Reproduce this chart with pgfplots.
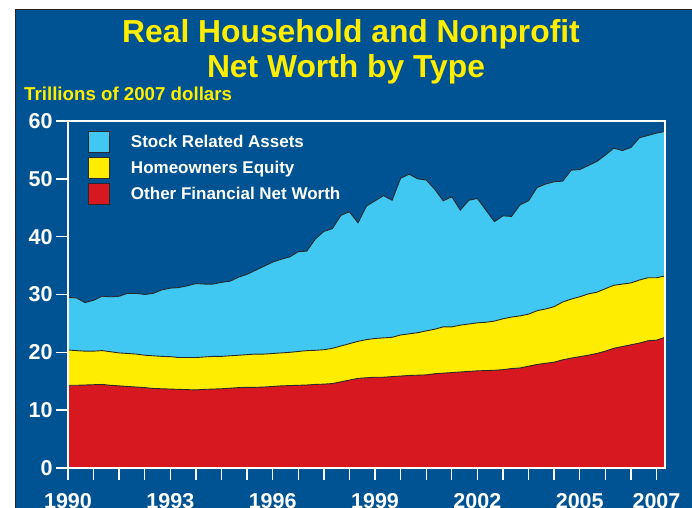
\documentclass[border=0pt]{standalone}
\usepackage{fontspec}
\setmainfont{Liberation Sans}
\usepackage{pgfplots}
\usepackage{pgfplotstable}
\pgfplotsset{compat=1.18}
\definecolor{bgblue}{RGB}{0,83,146}
\definecolor{lblue}{RGB}{64,200,242}
\definecolor{yel}{RGB}{255,237,0}
\definecolor{rd}{RGB}{215,24,32}
\definecolor{titley}{RGB}{255,237,0}
\definecolor{linec}{RGB}{40,40,45}
\pgfplotstableread{
q tot yel red
0 29.5 20.4 14.3
1 29.4 20.3 14.3
2 28.6 20.2 14.35
3 29.0 20.2 14.4
4 29.7 20.3 14.45
5 29.6 20.1 14.3
6 29.7 19.9 14.2
7 30.2 19.8 14.1
8 30.2 19.7 14.0
9 30.0 19.5 13.9
10 30.2 19.4 13.75
11 30.8 19.3 13.7
12 31.1 19.25 13.65
13 31.2 19.1 13.6
14 31.5 19.1 13.55
15 31.9 19.1 13.5
16 31.8 19.2 13.6
17 31.8 19.3 13.65
18 32.1 19.3 13.7
19 32.3 19.4 13.8
20 33.0 19.5 13.9
21 33.5 19.6 13.95
22 34.2 19.7 13.95
23 34.9 19.7 14.0
24 35.6 19.8 14.1
25 36.1 19.9 14.2
26 36.5 20.0 14.25
27 37.4 20.15 14.3
28 37.5 20.3 14.35
29 39.6 20.35 14.45
30 40.9 20.45 14.5
31 41.4 20.7 14.6
32 43.7 21.1 14.9
33 44.3 21.5 15.2
34 42.4 21.9 15.5
35 45.3 22.2 15.6
36 46.2 22.4 15.7
37 47.1 22.5 15.7
38 46.3 22.6 15.8
39 50.1 23.0 15.9
40 50.8 23.2 16.0
41 50.0 23.4 16.05
42 49.8 23.7 16.1
43 48.2 24.0 16.3
44 46.2 24.4 16.4
45 46.9 24.4 16.5
46 44.6 24.7 16.6
47 46.3 24.9 16.7
48 46.6 25.1 16.8
49 44.6 25.2 16.85
50 42.6 25.4 16.9
51 43.6 25.8 17.0
52 43.5 26.1 17.2
53 45.5 26.3 17.3
54 46.2 26.6 17.6
55 48.5 27.2 17.9
56 49.1 27.5 18.1
57 49.5 27.9 18.3
58 49.6 28.7 18.7
59 51.5 29.2 19.0
60 51.6 29.6 19.25
61 52.3 30.1 19.5
62 53.0 30.4 19.8
63 54.1 31.0 20.2
64 55.3 31.6 20.7
65 54.9 31.8 21.0
66 55.4 32.0 21.3
67 57.1 32.5 21.6
68 57.5 32.9 22.0
69 57.9 32.9 22.1
70 58.2 33.2 22.6
}\data
\begin{document}
\begin{tikzpicture}
\fill[white] (0bp,0bp) rectangle (692bp,508bp);
\filldraw[fill=bgblue, draw=black!85, line width=1bp] (15bp,-10bp) rectangle (710bp,498bp);
\node[anchor=base, text=titley, font=\fontsize{31.8bp}{35bp}\selectfont\bfseries] at (351bp,465.3bp) {Real Household and Nonprofit};
\node[anchor=base, text=titley, font=\fontsize{31.8bp}{35bp}\selectfont\bfseries] at (346bp,430.7bp) {Net Worth by Type};
\node[anchor=base west, inner sep=0pt, text=titley, font=\fontsize{18.7bp}{20bp}\selectfont\bfseries] at (24bp,407.3bp) {Trillions of 2007 dollars};
\begin{axis}[
  at={(68bp,40bp)}, anchor=south west,
  width=597bp, height=347bp, scale only axis,
  xmin=0, xmax=70, ymin=0, ymax=60,
  axis on top,
  no markers,
  axis line style={white, line width=2bp},
  every tick/.style={white, line width=1.4bp},
  tick align=outside,
  major tick length=12bp, minor tick length=12bp,
  xtick pos=bottom, ytick pos=left,
  xtick={0,12,24,36,48,60,69},
  xticklabels={1990,1993,1996,1999,2002,2005,2007},
  minor xtick={3,6,9,15,18,21,27,30,33,39,42,45,51,54,57,63,66},
  ytick={0,10,20,30,40,50,60},
  /pgf/number format/assume math mode=true,
  ticklabel style={text=white, font=\fontsize{21.5bp}{24bp}\selectfont\bfseries},
  xticklabel style={yshift=-10bp},
  legend image code/.code={\draw[#1, draw=linec, line width=0.8bp] (0bp,-10bp) rectangle (21bp,11bp);},
  legend cell align=left,
  legend style={at={(0.0335,0.972)}, anchor=north west, draw=none, fill=none,
    inner sep=0pt, row sep=4bp, text=white,
    font=\fontsize{17bp}{20bp}\selectfont\bfseries,
    nodes={inner sep=0pt},
    /tikz/every odd column/.append style={column sep=21bp}},
]
\addplot[fill=lblue, draw=none, forget plot] table[x=q,y=tot]{\data} \closedcycle;
\addplot[draw=linec, line width=0.9bp, forget plot] table[x=q,y=tot]{\data};
\addplot[fill=yel, draw=none, forget plot] table[x=q,y=yel]{\data} \closedcycle;
\addplot[draw=linec, line width=0.9bp, forget plot] table[x=q,y=yel]{\data};
\addplot[fill=rd, draw=none, forget plot] table[x=q,y=red]{\data} \closedcycle;
\addplot[draw=linec, line width=0.9bp, forget plot] table[x=q,y=red]{\data};
\addlegendimage{fill=lblue}
\addlegendentry{Stock Related Assets}
\addlegendimage{fill=yel}
\addlegendentry{Homeowners Equity}
\addlegendimage{fill=rd}
\addlegendentry{Other Financial Net Worth}
\end{axis}
\pgfresetboundingbox
\useasboundingbox (0bp,0bp) rectangle (692bp,508bp);
\end{tikzpicture}
\end{document}
